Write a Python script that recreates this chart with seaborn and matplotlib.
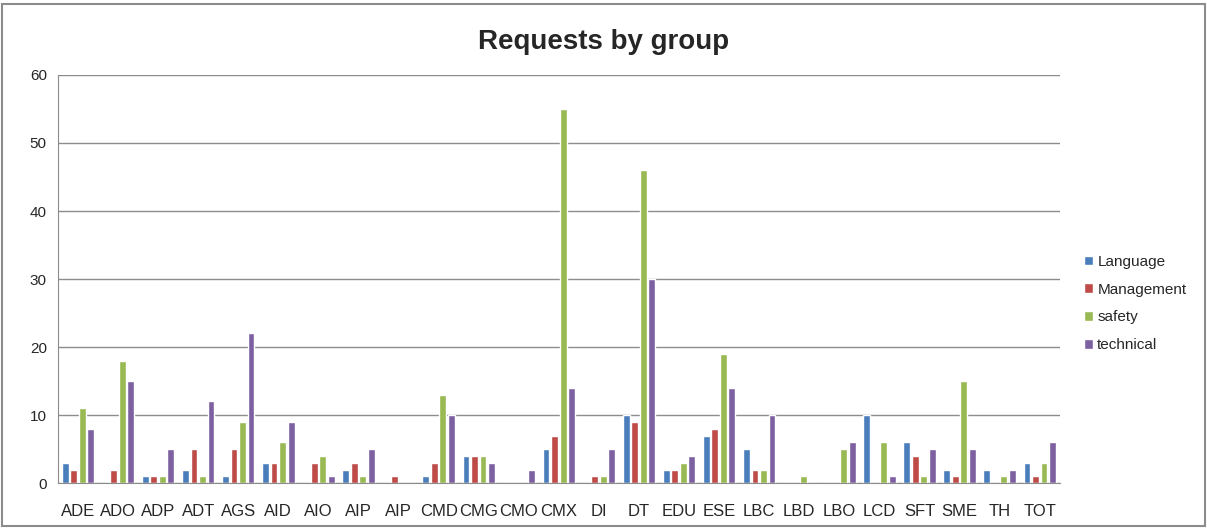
import matplotlib
matplotlib.use("Agg")
import matplotlib.pyplot as plt
import matplotlib.patches as mpatches
import pandas as pd
import seaborn as sns

groups = ["ADE", "ADO", "ADP", "ADT", "AGS", "AID", "AIO", "AIP", "AIP", "CMD",
          "CMG", "CMO", "CMX", "DI", "DT", "EDU", "ESE", "LBC", "LBD", "LBO",
          "LCD", "SFT", "SME", "TH", "TOT"]
language = [3, 0, 1, 2, 1, 3, 0, 2, 0, 1, 4, 0, 5, 0, 10, 2, 7, 5, 0, 0, 10, 6, 2, 2, 3]
management = [2, 2, 1, 5, 5, 3, 3, 3, 1, 3, 4, 0, 7, 1, 9, 2, 8, 2, 0, 0, 0, 4, 1, 0, 1]
safety = [11, 18, 1, 1, 9, 6, 4, 1, 0, 13, 4, 0, 55, 1, 46, 3, 19, 2, 1, 5, 6, 1, 15, 1, 3]
technical = [8, 15, 5, 12, 22, 9, 1, 5, 0, 10, 3, 2, 14, 5, 30, 4, 14, 10, 0, 6, 1, 5, 5, 2, 6]

series = {"Language": language, "Management": management,
          "safety": safety, "technical": technical}
colors = ["#4a7ebb", "#be4b48", "#98b954", "#7d60a0"]

rows = []
for name, vals in series.items():
    for i, v in enumerate(vals):
        rows.append({"pos": i, "group": groups[i], "type": name, "count": v})
df = pd.DataFrame(rows)

sns.set_style("white")
plt.rcParams["font.family"] = ["Liberation Sans", "DejaVu Sans"]

fig = plt.figure(figsize=(12.07, 5.28), dpi=100)
ax = fig.add_axes([0.048, 0.085, 0.830, 0.773])

sns.barplot(data=df, x="pos", y="count", hue="type", palette=colors,
            width=0.85, gap=0.2, ax=ax, legend=True, saturation=1)

ax.set_xticks(range(len(groups)))
ax.set_xticklabels(groups, fontsize=12)
ax.set_xlim(-0.5, len(groups) - 0.5)
ax.set_ylim(0, 60)
ax.set_yticks(range(0, 61, 10))
ax.tick_params(axis="y", labelsize=11, length=0, pad=8)
ax.tick_params(axis="x", length=0, pad=15)
ax.yaxis.grid(True, color="#8c8c8c", linewidth=1)
ax.set_axisbelow(True)
ax.set_xlabel("")
ax.set_ylabel("")
for side in ["top", "right"]:
    ax.spines[side].set_visible(False)
ax.spines["left"].set_color("#8c8c8c")
ax.spines["bottom"].set_color("#8c8c8c")

ax.legend(loc="center left", bbox_to_anchor=(1.01, 0.44), frameon=False,
          fontsize=11, handlelength=0.6, handleheight=0.6, handletextpad=0.3,
          labelspacing=0.9)

fig.suptitle("Requests by group", fontsize=20, fontweight="bold", y=0.945)

fig.patches.append(mpatches.Rectangle((0.002, 0.003), 0.996, 0.99, transform=fig.transFigure,
                                      fill=False, edgecolor="#8c8c8c", linewidth=1.5))

fig.savefig("out.png", dpi=100)
